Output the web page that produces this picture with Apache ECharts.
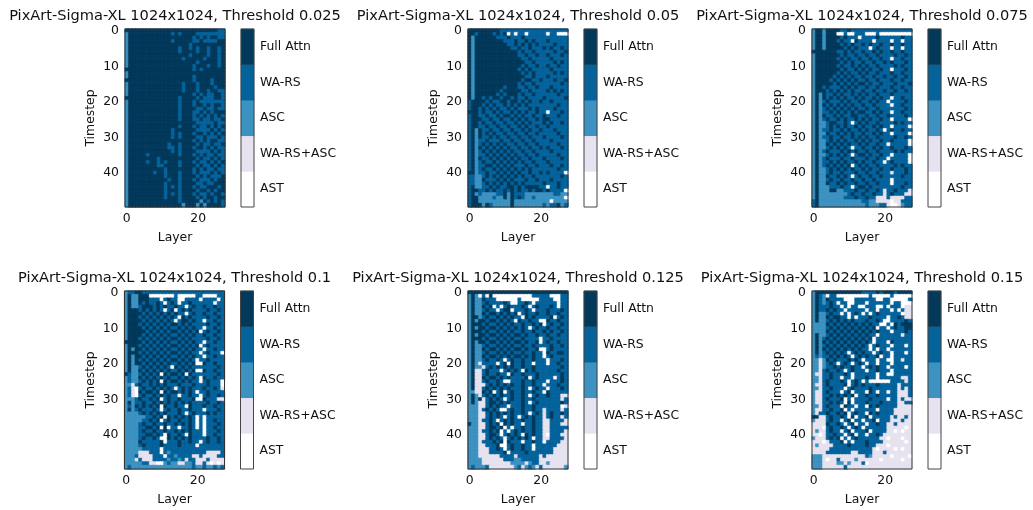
<!DOCTYPE html>
<html><head><meta charset="utf-8">
<style>html,body{margin:0;padding:0;background:#fff}#c{width:1033px;height:510px;filter:blur(0.45px)}</style>
<script src="https://cdn.jsdelivr.net/npm/echarts@6/dist/echarts.min.js"></script>
</head><body><div id="c"></div>
<script>
const layers = Array.from({length:28},(_,i)=>String(i));
const timesteps = Array.from({length:50},(_,i)=>String(i));
const levelNames = ["AST","WA-RS+ASC","ASC","WA-RS","Full Attn"];
const levelColors = ["#ffffff","#e6e2ef","#3c92c0","#05639c","#03395b"];
const titles = ["PixArt-Sigma-XL 1024x1024, Threshold 0.025","PixArt-Sigma-XL 1024x1024, Threshold 0.05","PixArt-Sigma-XL 1024x1024, Threshold 0.075","PixArt-Sigma-XL 1024x1024, Threshold 0.1","PixArt-Sigma-XL 1024x1024, Threshold 0.125","PixArt-Sigma-XL 1024x1024, Threshold 0.15"];

const t025 = [
"4444444 4444444 4444444 4444433","2444444 4444443 4344443 3333333","2444444 4444444 4444434 3434433","2444444 4444443 4444433 4333344","2444444 4444444 4444344 4444444",
"2444444 4444444 4344343 4434434","2444444 4444444 4344443 4434434","2444444 4444444 4444344 4434434","2444444 4444444 4434444 4344434","2444444 4444444 4444443 4444434",
"2444444 4444444 4444434 4434434","4444444 4444444 4444434 3444444","2444444 4444444 4444444 4444444","2444444 4444444 4444434 4444444","4444444 4444444 4444434 4443444",
"2444444 4444444 4434443 4443444","2444444 4444444 4434443 4444344","2444444 4444444 4434443 4434433","2444444 4444444 4444434 3433443","4444444 4444444 4344443 4333443",
"2444444 4444444 4344434 3333333","2444444 4444444 4344434 4343443","2444444 4444444 4344443 3433433","2444444 4444444 4344433 4343444","2444444 4444444 4344434 3434343",
"2444444 4444444 4344433 4334334","2444444 4444444 4444443 3333433","2444444 4444444 4344434 3343434","2444444 4444443 4444443 3334343","2444444 4444443 4344434 4343434",
"2444444 4444443 4344443 3433343","2444444 4444444 4444434 3434433","2444444 4444434 4344443 4334334","2444444 4444433 4344434 4343433","2444444 4444443 4344443 3334343",
"2444443 4444444 4344434 3433433","2444444 4434444 4444443 4334343","2444443 4434344 4344434 3343434","2444444 4433444 4344443 4334343","2444444 4444344 4444434 3433433",
"2444444 4344344 4344434 3334343","2444444 4444344 4344443 4343334","2444444 4444434 4344434 3334344","2444444 4444344 4344443 3433444","2444444 4444343 4344434 3344434",
"2444444 4444344 4344443 4434344","2444444 4444343 4344434 3343443","2444444 4444344 4344443 4344344","2444444 4444444 4344444 2434343","2444444 4444444 4424442 4244443"];

const t050 = [
"4444444 4433333 3333333 3333333","4434444 3434030 3303333 3033000","4244444 4333433 3433333 3333333","4244444 4443334 3343433 3433333","4244444 4444334 3434343 3334333",
"4244444 4444433 4334333 4343343","4244444 4444444 3433433 3334334","4244444 4444444 3343343 3433343","4244444 4444444 4334333 3343333","4244444 4444444 4433433 3334343",
"4244444 4444444 4343343 3433433","4244444 4444444 3434333 3343333","4244444 4444444 4343433 3334343","4244444 4444444 4433433 3433333","4244444 4444444 4344334 3334334",
"4244444 4444444 3433433 3333343","4244444 4443444 3343343 3343333","4244444 4434444 4334333 3434343","4244444 4343444 3433433 3333433","4244343 4434434 3343333 4333334",
"3444434 3344344 3434334 3343333","3444343 4334343 4343333 3333433","3443434 3433434 3334343 3334333","4443433 4343343 4343343 3033343","3443343 3434434 3433433 4333433",
"3444334 3343343 4343343 4433333","3443433 4334334 3434333 4343343","3443343 3433433 4343343 3433333","3424334 3343343 3434334 3334333","3424343 4334334 3343343 3333433",
"3424334 3433433 4334333 4333343","3423343 3343343 3433433 3343333","3423434 3434334 3343343 3333433","3424343 4343433 4334334 3433343","3423434 3434343 3433433 3343333",
"3423343 4343434 3343343 3333433","3424334 3434343 4334333 4333343","3423433 4343434 3433433 3433333","3423344 3434343 3343343 3343343","3423433 4343434 3434333 3333433",
"4423343 3434343 4334334 3433330","3322343 4343434 3433433 3333343","3322433 3434343 3343343 3343333","3322343 4343434 3433333 4333433","3422334 3433443 4344443 3033433",
"3443343 4334343 4334344 3433330","3423222 2334243 3322222 2223322","3442222 3224243 4322322 2222220","3442222 2222242 2222222 2202222","3444243 2222242 2222222 3233423"];

const t075 = [
"2442444 4334333 3333333 3333333","2442444 0030033 3000300 0000000","2442444 4343330 3333433 3333433","2442444 3433043 3330333 3033033","2442444 4343433 4343343 3433433",
"2442444 4434343 3303433 3033033","4444444 3343433 4334343 3433433","2444444 4343343 3433433 3343343","2444444 3434334 3343343 3033433","2444444 4343433 4334334 3433343",
"2444444 3433434 3433433 3343433","2444444 4343343 4343343 3033343","2444444 3434334 3433433 3433433","2444443 4343433 4334334 3343343","2444434 3434343 3433433 3433433",
"2444443 4343434 4343343 3343334","2443433 3434343 3433433 3433433","2444343 4343433 4334334 3343343","2424334 3433434 3433433 3433333","2424343 4343343 4334343 3033433",
"2423433 3434334 3343433 0333343","2424343 4343433 4334333 3033433","2423434 3434343 3433433 3333343","2423343 4343434 4334343 3033433","2424334 3433443 3433433 4333343",
"2423433 4343343 4343343 3033330","2422344 3343034 3433433 3343433","2422343 4343343 4334343 3033330","2423343 3434334 3433430 3433433","2422433 4343433 4334343 3033330",
"2423343 3433434 3433433 3343343","2422343 4343343 4343343 3433330","2422434 3434334 3433433 0333330","2422343 4343033 4334343 3433343","2423433 3434343 3433433 3343433",
"2422343 4343034 4343343 3033330","2423433 3433433 3433433 0333330","2423343 4343343 4334330 3433330","2423434 3434034 3433433 3343433","2422343 4343433 4343343 3433343",
"2422343 3433343 3433433 3133343","2422433 4343034 3343343 3333433","2422343 3433433 4334333 3033333","2422433 4343343 3433433 3033343","2422233 3433034 4343333 3333433",
"2422244 2233343 3433431 3343331","2422222 2223433 4334331 3433311","2422222 2233343 3433111 3111133","3422222 2222222 3322111 1011333","3422222 2222222 2322233 1001233"];

const t100 = [
"2334433 3333333 3333333 3333333","2422444 0000000 3000003 3000033","2422444 3330343 3003333 0333303","2422434 3343034 3033433 3333033","2422344 4343433 4330343 3433433",
"2444343 4343034 0343433 3343343","2444434 3434343 4330343 3433433","2444343 4343434 3043433 3343343","2444434 3434343 0344343 3033433","2444343 4343434 4343433 3343343",
"2444434 3434343 3434343 3033433","2444443 4343434 4343434 0343343","2444434 3434343 3434343 3433433","2444343 4343434 4343433 3343343","4444434 3434343 3434343 3033433",
"2444343 4343434 4343434 0343333","2424434 3434343 3434343 3033433","2444343 4343434 4343433 0343330","2424434 3434343 3434343 3033433","2424343 4343434 4343430 3343333",
"2424434 3434343 3434340 0433433","2422343 4343430 4343433 3333343","2422434 3434343 3434340 0433433","4322343 4340434 4340433 3333343","2322434 3434343 3434343 0433433",
"2322343 4340434 4343433 0343330","2213433 4343433 3433343 3343330","2310343 3434343 0343433 3433431","2310434 4340434 4343430 3343333","2310343 3434343 3033433 0343343",
"2223433 4340343 3433340 0433311","2423343 3434343 4343433 3343343","2324343 4340433 4330433 3433433","2423433 3430343 3433433 3033343","2222343 4343433 3430343 3343433",
"2222223 3434043 4343430 3033333","2222233 4340343 3433430 3033433","2222343 3433433 4343430 3033343","2222334 4340403 3033430 3033433","2222343 3433433 4343433 3033343",
"2222334 4343043 3430433 3033433","2222343 3430043 4343433 3343343","2222433 3334033 3433433 0343343","2222343 3334333 3433330 3333333","2222233 3330333 3333333 3333333",
"2222111 3330323 3333333 3311113","2223111 1333033 2333311 3111133","2221311 1333323 3231331 1131111","2222233 1100232 2112231 1310101","2322222 2222222 2222232 2322323"];

const t125 = [
"4444444 4444444 4444444 4444444","2420304 0000000 0000333 3300033","2422433 3000000 3000003 3330033","2422343 3334300 3343033 3333033","2422434 0303433 3430343 3343033",
"2422343 3034403 3343033 3433343","2422434 4343434 0343343 3433433","2442343 3434343 3043433 3340343","2424434 4343430 4334330 0433433","2444343 3434343 3433434 0343343",
"2424434 4343434 3430343 3433433","2444343 3434343 3433433 4343343","2424434 4343434 4343343 3433433","2444343 3434343 3433330 3343333","2424434 4343434 4343340 3433433",
"2422343 3434343 3433433 3343343","2422434 4343434 4343340 0343333","2422343 3434343 3433433 0433443","2422434 4343434 4343433 0343333","2422343 3430343 3433433 3033343",
"2421333 3034043 3433033 3033433","2422134 3434343 3433433 3333343","2411343 3303434 3043433 3333433","2411343 3433043 3433343 3333343","2411434 4343433 3340343 3330343",
"2411343 3430033 3433433 3033343","2411134 3434343 3433433 0333433","2411343 4343433 3430343 3033343","2211434 0340343 3433433 0433333","2421343 4343343 3430343 3433311",
"2424134 3430343 3433433 3333313","2421134 4343433 3430343 3333343","2221134 3433033 3433433 3333301","2221343 4300343 3433433 1333313","2221134 3434343 3430343 1343343",
"2221134 3430343 0343433 1343313","2221334 3034343 3433433 1133331","4221134 3404343 3033433 1133311","2221134 4340303 3433433 1133333","2221334 3403034 3433433 1133331",
"2221134 4303434 3043433 1033311","2221134 3430343 4343033 1133331","2221333 4340433 3033433 0333311","2221133 3400343 3433033 3333111","2221113 3430343 3433033 3331111",
"2221113 3334033 3343333 3331111","2221111 1133331 3333331 3111111","2222111 1113332 2333331 1111111","2222111 1111122 2212331 1211111","2322231 1111112 3123213 1111112"];

const t150 = [
"2444444 4444444 3333434 4434444","2432033 0000000 0030000 0300000","2432433 3300033 3333003 3000003","2432343 0330033 3033333 3033000","2433343 3030330 0333003 0333011",
"2433434 3303333 3033033 3030311","2422343 3030343 0303433 3333011","2422434 4330303 3343333 0334311","2422343 4343433 3433430 0333343","2222434 3434343 4343300 3043444",
"2222343 4343434 3434033 0343344","2222434 3434343 4343433 3033343","2422343 4343434 3433033 3333133","2423434 3434343 4340333 3333333","2424343 4343434 3430333 0433333",
"2423434 3434343 4303433 3033303","2424343 4343434 3303033 0333333","2423434 3430343 4330343 3033303","2323343 4343034 3433403 3033333","2212434 3334343 0333033 0033133",
"2212343 0343034 3033033 3033333","2212334 3433433 0343433 0333303","2213433 4303433 3033433 3033333","2113343 3343033 3333033 0033333","2213343 3033033 3433033 3333113",
"2213433 3430343 0300000 0333313","2113433 3340343 4333433 3331333","2213343 3303433 3343333 3331313","2113433 3034033 3043033 0331113","2113343 4343403 3433433 3331113",
"2113433 3403033 3343333 0331311","2113343 4304033 3433343 3331133","2213433 3043303 3043433 3331111","2113343 3403033 3333033 3311111","2133433 4340343 3043433 3311111",
"4411343 3430403 3403333 3131131","2111343 3034033 0334033 3111311","1111433 4303403 3033433 1131111","1110343 3430343 0333333 1111101","1211343 3034033 3403333 1101011",
"1101334 3303403 3033431 1111111","2111343 4030343 3333311 0111011","1110133 3403033 3433331 1111101","1211113 3334333 3433111 0111111","1111133 3333333 3331011 1101011",
"1111333 3333113 3331113 1111111","2221111 1111111 1321111 1011110","2221011 3111121 1111101 1111011","2221111 2212111 3011111 1111111","2221111 1131111 1111111 1111111"];

const panels = [t025,t050,t075,t100,t125,t150];
const panelLefts = [125,468,812,124.5,468,812];
const panelTops = [29,29,29,291,291,291];
const plotW = 100, plotH = 178, barGap = 16, barW = 13;
const font = "DejaVu Sans", ink = "#111";

const grid=[],xAxis=[],yAxis=[],series=[],title=[];
panels.forEach((rows,k)=>{
  const L=panelLefts[k],T=panelTops[k], gi=grid.length;
  const data=[];
  rows.forEach((r,y)=>[...r.replace(/ /g,"")].forEach((c,x)=>data.push({value:[x,y,+c],itemStyle:{borderColor:levelColors[+c],borderWidth:0.5}})));
  grid.push({left:L,top:T,width:plotW,height:plotH,show:true,z:5,backgroundColor:"transparent",borderColor:"#333",borderWidth:1});
  xAxis.push({type:"category",gridIndex:gi,data:layers,position:"bottom",name:"Layer",nameLocation:"middle",nameGap:25,
    nameTextStyle:{fontFamily:font,fontSize:12.4,color:ink},
    axisLine:{show:false},axisTick:{alignWithLabel:true,interval:19,length:4,lineStyle:{color:ink}},
    axisLabel:{interval:19,fontFamily:font,fontSize:12.4,color:ink,margin:6},splitLine:{show:false}});
  yAxis.push({type:"category",gridIndex:gi,data:timesteps,inverse:true,name:"Timestep",nameLocation:"middle",nameGap:28,nameRotate:90,
    nameTextStyle:{fontFamily:font,fontSize:12.4,color:ink},
    axisLine:{show:false},axisTick:{alignWithLabel:true,interval:9,length:4,lineStyle:{color:ink}},
    axisLabel:{interval:9,fontFamily:font,fontSize:12.4,color:ink,margin:6},splitLine:{show:false}});
  series.push({type:"heatmap",xAxisIndex:gi,yAxisIndex:gi,data,progressive:0,animation:false,emphasis:{disabled:true}});
  title.push({text:titles[k],left:L+plotW/2-5,top:T-25,textAlign:"center",textStyle:{fontFamily:font,fontSize:14.6,fontWeight:"normal",color:ink}});
  const bi=grid.length;
  grid.push({left:L+plotW+barGap,top:T,width:barW,height:plotH,show:true,z:5,backgroundColor:"transparent",borderColor:"#444",borderWidth:1});
  xAxis.push({type:"category",gridIndex:bi,data:[""],axisLine:{show:false},axisTick:{show:false},axisLabel:{show:false}});
  yAxis.push({type:"category",gridIndex:bi,data:levelNames,position:"right",axisLine:{show:false},
    axisTick:{alignWithLabel:true,length:4,lineStyle:{color:ink}},
    axisLabel:{interval:0,fontFamily:font,fontSize:12.4,color:ink,margin:6},splitLine:{show:false}});
  series.push({type:"heatmap",xAxisIndex:bi,yAxisIndex:bi,data:levelNames.map((_,v)=>[0,v,v]),progressive:0,animation:false,emphasis:{disabled:true}});
});
const chart=echarts.init(document.getElementById("c"),null,{renderer:"canvas"});
chart.setOption({animation:false,backgroundColor:"#fff",title,grid,xAxis,yAxis,series,tooltip:{show:false},
  visualMap:{type:"piecewise",show:false,dimension:2,pieces:levelColors.map((color,v)=>({value:v,color}))}});
</script></body></html>
